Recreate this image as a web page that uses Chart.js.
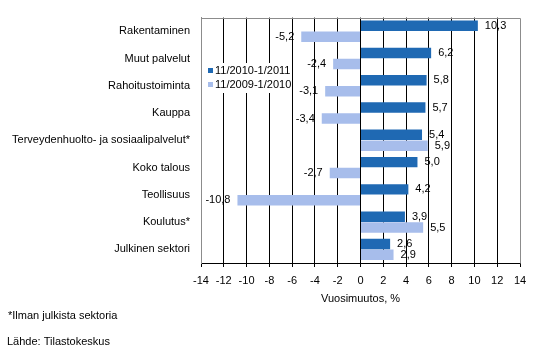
<!DOCTYPE html>
<html>
<head>
<meta charset="utf-8">
<script src="https://cdn.jsdelivr.net/npm/chart.js@4"></script>
<style>
html,body{margin:0;padding:0;background:#fff;}
canvas{display:block;}
</style>
</head>
<body>
<canvas id="c" width="541" height="357"></canvas>
<script>
const categories = ["Rakentaminen","Muut palvelut","Rahoitustoiminta","Kauppa","Terveydenhuolto- ja sosiaalipalvelut*","Koko talous","Teollisuus","Koulutus*","Julkinen sektori"];
const seriesNames = ["11/2010-1/2011","11/2009-1/2010"];
const values2011 = [10.3, 6.2, 5.8, 5.7, 5.4, 5.0, 4.2, 3.9, 2.6];
const values2010 = [-5.2, -2.4, -3.1, -3.4, 5.9, -2.7, -10.8, 5.5, 2.9];
const xTicks = [-14,-12,-10,-8,-6,-4,-2,0,2,4,6,8,10,12,14];
const axisTitle = "Vuosimuutos, %";
const footnote = "*Ilman julkista sektoria";
const source = "Lähde: Tilastokeskus";

const FONT = "'Liberation Sans', Arial, sans-serif";
const colors = ["#1F69B3", "#A7BDEB"];

const fmt = v => v.toFixed(1).replace('.', ',');

const decor = {
  id: 'decor',
  afterDatasetsDraw(chart) {
    const ctx = chart.ctx;
    const a = chart.chartArea;
    ctx.save();
    // plot border
    ctx.strokeStyle = '#8c8c8c';
    ctx.lineWidth = 1;
    ctx.beginPath();
    ctx.moveTo(Math.round(a.left)+0.5, Math.round(a.bottom)+0.5);
    ctx.lineTo(Math.round(a.left)+0.5, Math.round(a.top)+0.5);
    ctx.lineTo(Math.round(a.right)+0.5, Math.round(a.top)+0.5);
    ctx.lineTo(Math.round(a.right)+0.5, Math.round(a.bottom)+0.5);
    ctx.stroke();
    // data labels
    ctx.font = "11px " + FONT;
    ctx.fillStyle = '#000';
    ctx.textBaseline = 'middle';
    chart.data.datasets.forEach((ds, di) => {
      const meta = chart.getDatasetMeta(di);
      meta.data.forEach((el, i) => {
        const v = ds.data[i];
        if (v >= 0) { ctx.textAlign = 'left'; ctx.fillText(fmt(v), el.x + 7, el.y); }
        else { ctx.textAlign = 'right'; ctx.fillText(fmt(v), el.x - 7, el.y); }
      });
    });
    // legend (inside plot)
    const lx = a.left + 4, ly = 63;
    ctx.fillStyle = '#fff';
    ctx.fillRect(lx, ly, 84, 30);
    chart.data.datasets.forEach((ds, di) => {
      const cy = ly + 8 + di * 14;
      ctx.fillStyle = ds.backgroundColor;
      ctx.fillRect(lx + 3, cy - 3, 5, 5);
      ctx.fillStyle = '#000';
      ctx.textAlign = 'left';
      ctx.textBaseline = 'middle';
      ctx.fillText(ds.label, lx + 10, cy);
    });
    // footnotes
    ctx.textBaseline = 'middle';
    ctx.fillText(footnote, 8, 316);
    ctx.fillText(source, 7, 342);
    ctx.restore();
  }
};

new Chart(document.getElementById('c'), {
  type: 'bar',
  data: {
    labels: categories,
    datasets: [
      { label: seriesNames[0], data: values2011, backgroundColor: colors[0], categoryPercentage: 0.8, barPercentage: 0.96 },
      { label: seriesNames[1], data: values2010, backgroundColor: colors[1], categoryPercentage: 0.8, barPercentage: 0.96 }
    ]
  },
  options: {
    indexAxis: 'y',
    responsive: false,
    animation: false,
    devicePixelRatio: 1,
    layout: { padding: { top: 17, right: 21, left: 0, bottom: 0 } },
    plugins: { legend: { display: false }, tooltip: { enabled: false } },
    scales: {
      x: {
        min: xTicks[0], max: xTicks[xTicks.length - 1],
        afterBuildTicks: s => { s.ticks = xTicks.map(v => ({ value: v })); },
        afterFit: s => { s.height = 94; },
        ticks: { color: '#000', font: { family: FONT, size: 11 }, padding: 7, maxRotation: 0, autoSkip: false,
                 callback: v => String(v) },
        grid: {
          color: c => (c.tick && (c.tick.value === xTicks[0] || c.tick.value === xTicks[xTicks.length-1])) ? 'rgba(0,0,0,0)' : '#000',
          tickColor: '#000', tickLength: 4, drawTicks: true
        },
        border: { display: true, color: '#000' },
        title: { display: true, text: axisTitle, color: '#000', font: { family: FONT, size: 11 }, padding: { top: 0, bottom: 51 } }
      },
      y: {
        afterFit: s => { s.width = 201; },
        ticks: { color: '#000', font: { family: FONT, size: 11 }, padding: 11, autoSkip: false },
        grid: { display: false, drawTicks: false },
        border: { display: true, color: '#8c8c8c' }
      }
    }
  },
  plugins: [decor]
});
</script>
</body>
</html>
